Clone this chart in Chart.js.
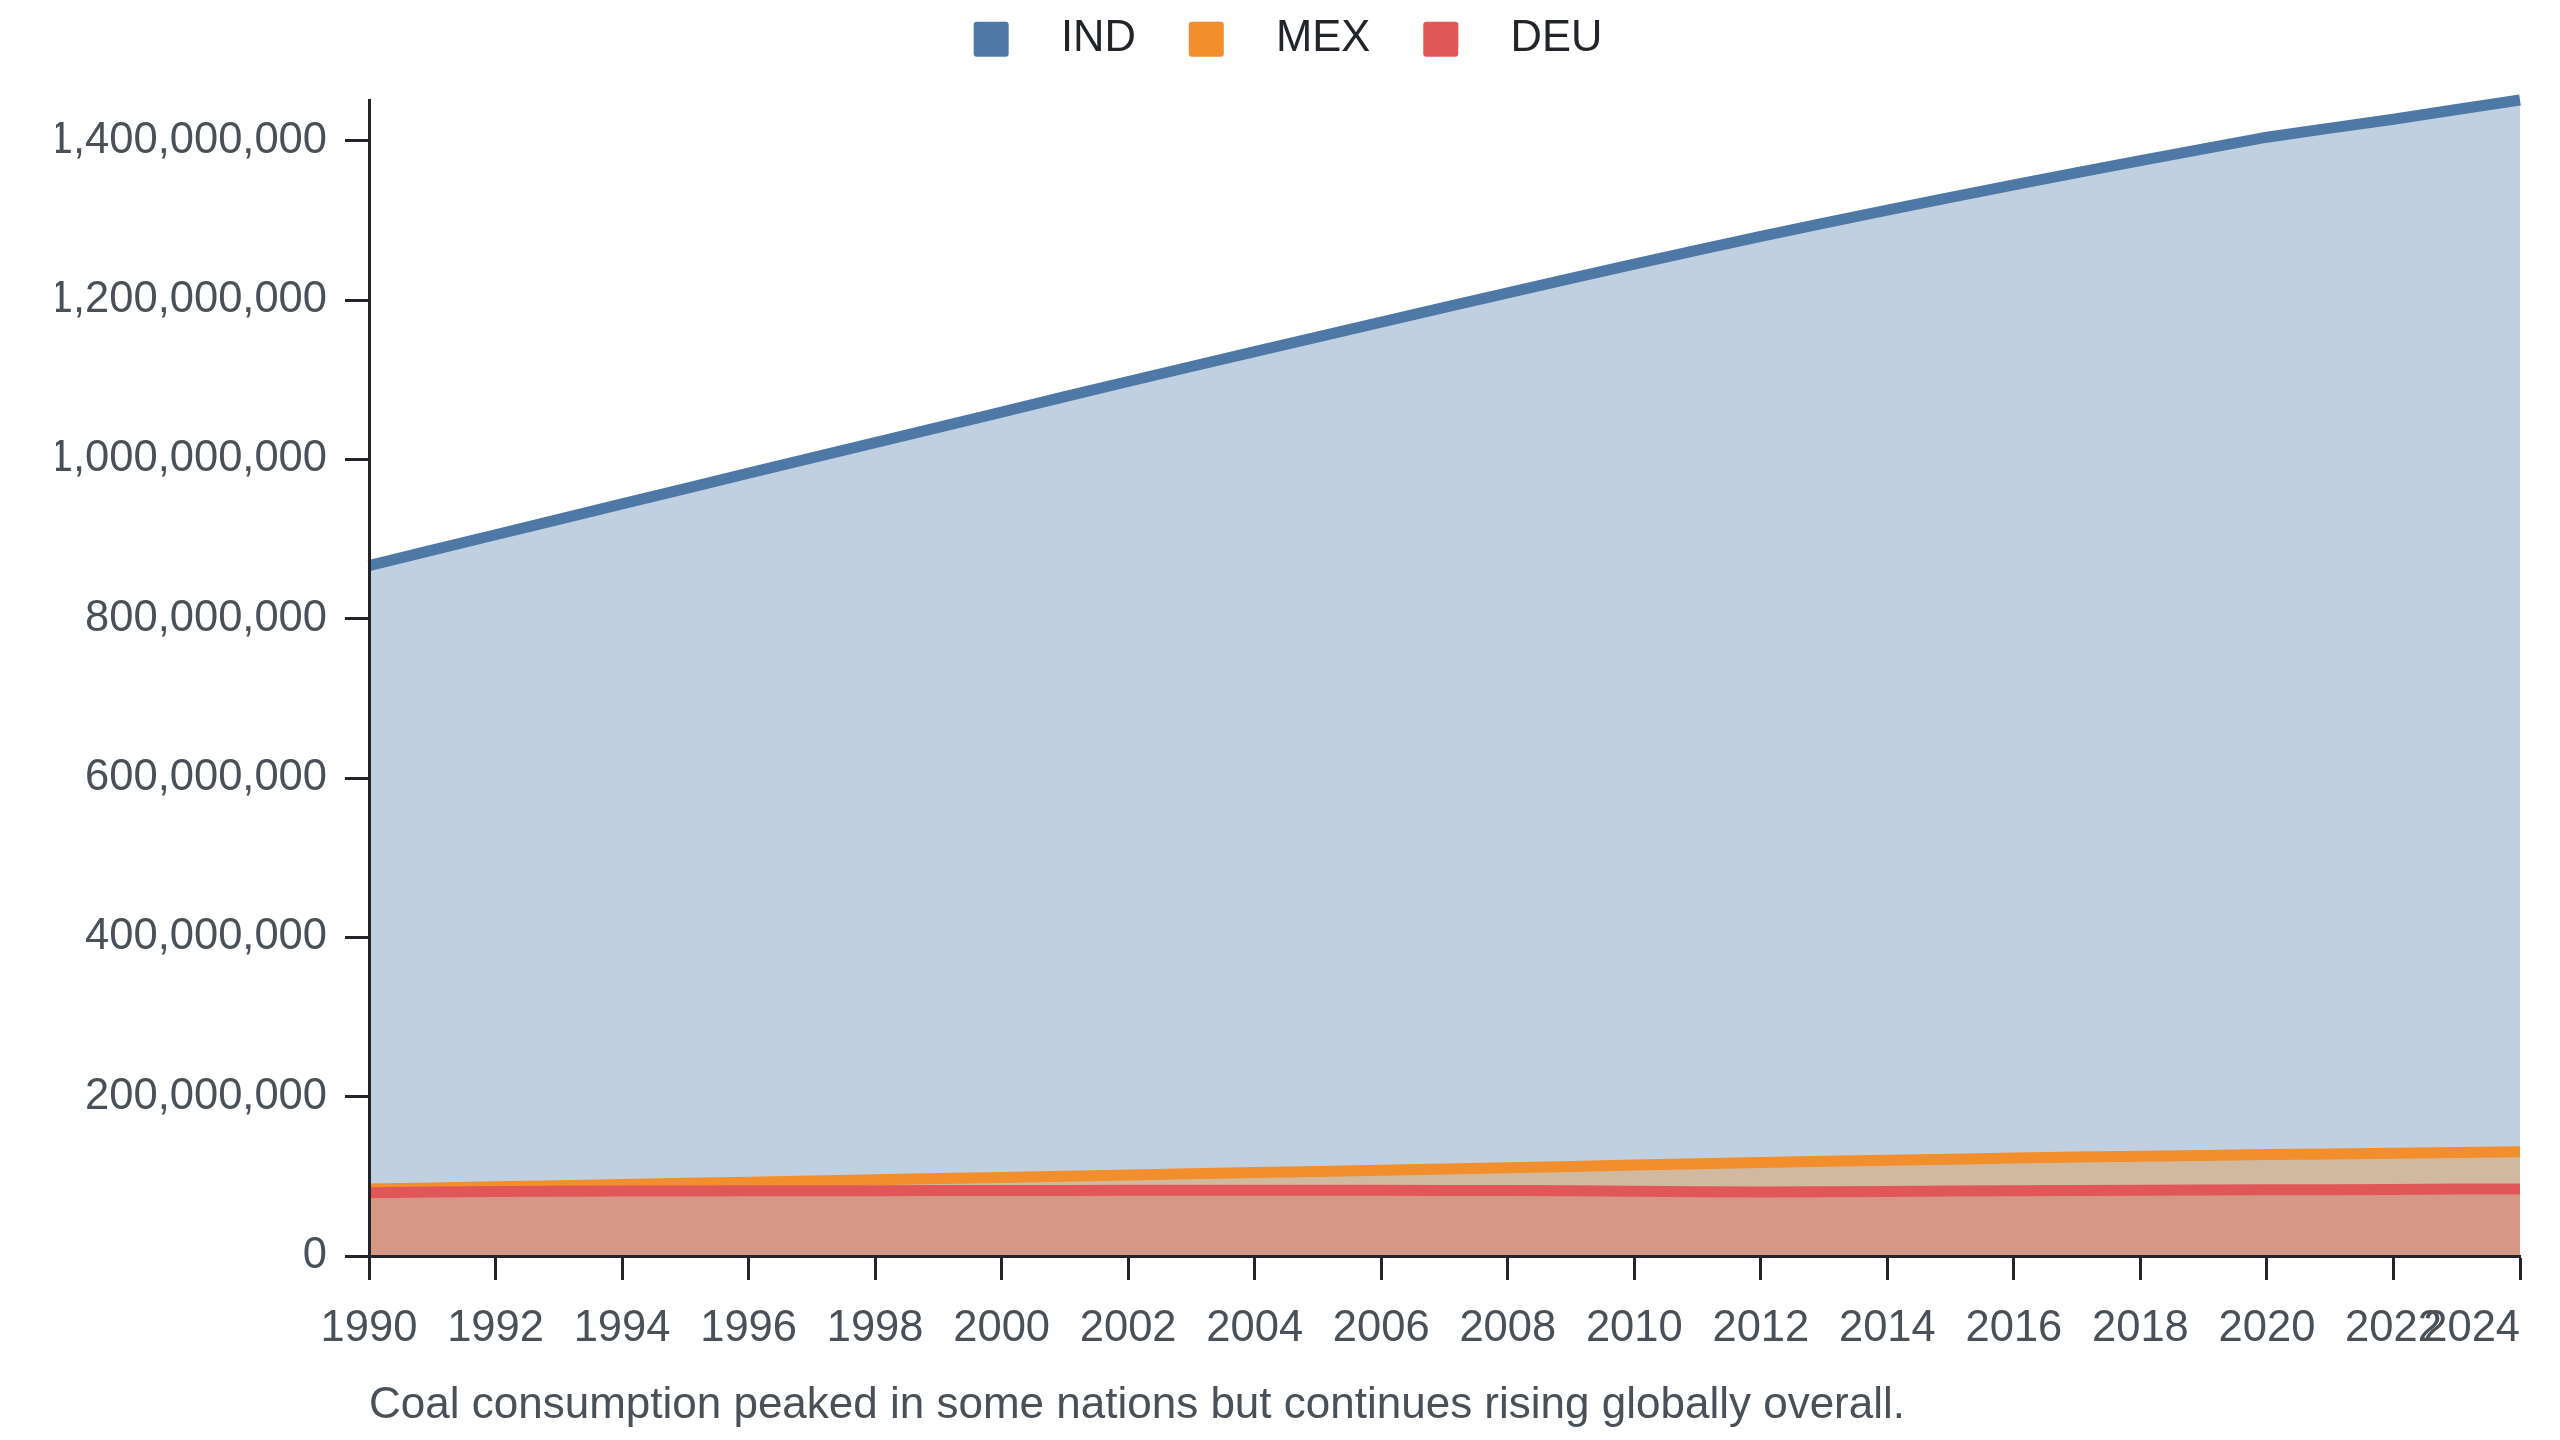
<!DOCTYPE html>
<html>
<head>
<meta charset="utf-8">
<script src="https://cdn.jsdelivr.net/npm/chart.js@4.4.1/dist/chart.umd.min.js"></script>
<style>
  html, body { margin: 0; padding: 0; background: #ffffff; }
  #wrap { position: relative; width: 2560px; height: 1440px; }
</style>
</head>
<body>
<div id="wrap"><canvas id="c"></canvas></div>
<script>
const years = [1990,1991,1992,1993,1994,1995,1996,1997,1998,1999,2000,2001,2002,2003,2004,2005,2006,2007,2008,2009,2010,2011,2012,2013,2014,2015,2016,2017,2018,2019,2020,2021,2022,2023,2024];

const ind = [866700000,886100000,905500000,924900000,944200000,963500000,982800000,1002000000,1021200000,1040400000,
  1059500000,1079000000,1097900000,1116700000,1135400000,1154000000,1172500000,1190900000,1209200000,1227300000,
  1245200000,1262800000,1280100000,1296700000,1313000000,1329000000,1344700000,1360100000,1375200000,1390000000,
  1404600000,1416000000,1427200000,1439300000,1451300000];

const mex = [84000000,85400000,86800000,88200000,89700000,91200000,92700000,94200000,95700000,97200000,
  98700000,100200000,101700000,103200000,104700000,106200000,107600000,109100000,110800000,112500000,
  114200000,115900000,117500000,118900000,120300000,121600000,122900000,124200000,125300000,126300000,
  127400000,128200000,129100000,130000000,131000000];

const deu = [79500000,80300000,80900000,81300000,81500000,81700000,81900000,82000000,82000000,82100000,
  82200000,82300000,82400000,82500000,82500000,82500000,82400000,82300000,82100000,81800000,
  81300000,80700000,80400000,80600000,81000000,81500000,81900000,82300000,82600000,82900000,
  83100000,83200000,83600000,84000000,84100000];

const yTickValues = [0, 200000000, 400000000, 600000000, 800000000, 1000000000, 1200000000, 1400000000];
const xTickYears = [1990,1992,1994,1996,1998,2000,2002,2004,2006,2008,2010,2012,2014,2016,2018,2020,2022,2024];

const seriesNames = ['IND', 'MEX', 'DEU'];
const caption = 'Coal consumption peaked in some nations but continues rising globally overall.';

const FONT = "'Liberation Sans', Arial, Helvetica, sans-serif";
const FS = 43.5;
Chart.defaults.font.family = FONT;
Chart.defaults.font.size = FS;

const legendSpacer = {
  id: 'legendSpacer',
  afterInit(chart) {
    const lg = chart.legend;
    if (lg && !lg._spacerPatched) {
      const orig = lg.fit;
      lg.fit = function () { orig.call(this); this.height = 135.5; };
      lg._spacerPatched = true;
    }
  }
};

function ds(label, data, color, fill, order) {
  return {
    label, data, order,
    borderColor: color,
    backgroundColor: fill,
    borderWidth: 11,
    fill: 'origin',
    pointRadius: 0,
    pointHoverRadius: 0,
    tension: 0,
    clip: false
  };
}

new Chart(document.getElementById('c'), {
  type: 'line',
  data: {
    labels: years,
    datasets: [
      ds(seriesNames[0], ind, '#4e79a7', 'rgba(78,121,167,0.35)', 2),
      ds(seriesNames[1], mex, '#f28e2b', 'rgba(242,142,43,0.35)', 1),
      ds(seriesNames[2], deu, '#e15759', 'rgba(225,87,89,0.35)', 0)
    ]
  },
  plugins: [legendSpacer],
  options: {
    responsive: true,
    maintainAspectRatio: false,
    animation: false,
    layout: { padding: { top: -35.5, left: 56, right: 40, bottom: 0 } },
    plugins: {
      tooltip: { enabled: false },
      legend: {
        position: 'top',
        align: 'center',
        labels: {
          boxWidth: 35,
          boxHeight: 35,
          padding: 53,
          color: '#212529',
          font: { size: FS },
          useBorderRadius: true,
          borderRadius: 3,
          sort: (a, b) => a.datasetIndex - b.datasetIndex,
          generateLabels(chart) {
            const items = Chart.defaults.plugins.legend.labels.generateLabels(chart);
            items.forEach(it => {
              const d = chart.data.datasets[it.datasetIndex];
              it.fillStyle = d.borderColor;
              it.strokeStyle = d.borderColor;
              it.lineWidth = 0;
              it.text = '\u2002\u2009' + d.label;
            });
            return items;
          }
        }
      }
    },
    scales: {
      x: {
        type: 'linear',
        min: years[0],
        max: years[years.length - 1],
        offset: false,
        afterBuildTicks(scale) { scale.ticks = xTickYears.map(v => ({ value: v })); },
        afterFit(scale) { scale.height = 184; scale.paddingLeft = 0; scale.paddingRight = 0; },
        border: { display: true, color: '#212529', width: 3, z: 1 },
        grid: { display: true, drawOnChartArea: false, drawTicks: true, tickLength: 24, tickWidth: 3, tickColor: '#212529' },
        ticks: {
          autoSkip: false,
          maxRotation: 0,
          minRotation: 0,
          padding: 23,
          color: '#495057',
          font: { size: FS },
          callback: (v) => (v === years[years.length - 1] ? String(v) + '        ' : String(v))
        },
        title: {
          display: true,
          text: caption,
          align: 'start',
          color: '#495057',
          font: { size: 44 },
          padding: { top: 0, bottom: 8 }
        }
      },
      y: {
        type: 'linear',
        min: 0,
        max: Math.max(...ind),
        afterBuildTicks(scale) { scale.ticks = yTickValues.map(v => ({ value: v })); },
        afterFit(scale) { scale.width = 313; },
        border: { display: true, color: '#212529', width: 3, z: 1 },
        grid: { display: true, drawOnChartArea: false, drawTicks: true, tickLength: 24, tickWidth: 3, tickColor: '#212529' },
        ticks: {
          padding: 18,
          color: '#495057',
          font: { size: FS },
          callback: (v) => Number(v).toLocaleString('en-US')
        }
      }
    }
  }
});
</script>
</body>
</html>
